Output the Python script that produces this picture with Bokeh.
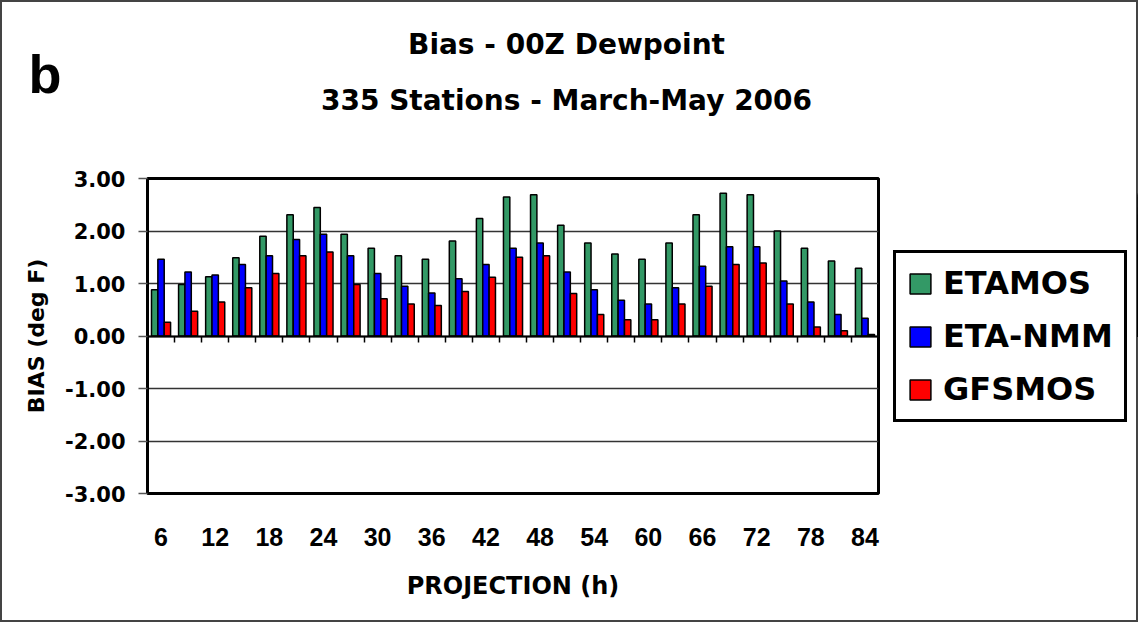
from bokeh.plotting import figure
from bokeh.layouts import column, row
from bokeh.models import (Range1d, LinearAxis, FixedTicker, Legend,
                          LegendItem, ColumnDataSource)
from bokeh.core.properties import value
from bokeh.transform import dodge
from bokeh.embed import file_html
from bokeh.resources import INLINE

# ---------------- data ----------------
projections = ["6", "9", "12", "15", "18", "21", "24", "27", "30", "33", "36", "39", "42",
               "45", "48", "51", "54", "57", "60", "63", "66", "69", "72", "75", "78", "81", "84"]
xtick_labels = ["6", "12", "18", "24", "30", "36", "42", "48", "54", "60", "66", "72", "78", "84"]

etamos = [0.88, 0.98, 1.13, 1.49, 1.90, 2.31, 2.45, 1.94, 1.67, 1.53, 1.46, 1.81, 2.24,
          2.65, 2.69, 2.11, 1.77, 1.56, 1.46, 1.77, 2.31, 2.72, 2.69, 2.00, 1.67, 1.43, 1.29]
eta_nmm = [1.46, 1.22, 1.16, 1.36, 1.53, 1.84, 1.94, 1.53, 1.19, 0.95, 0.82, 1.09, 1.36,
           1.67, 1.77, 1.22, 0.88, 0.68, 0.61, 0.92, 1.33, 1.70, 1.70, 1.05, 0.65, 0.41, 0.34]
gfsmos = [0.26, 0.47, 0.65, 0.92, 1.19, 1.53, 1.60, 0.98, 0.71, 0.61, 0.58, 0.85, 1.12,
          1.50, 1.53, 0.81, 0.41, 0.31, 0.31, 0.61, 0.95, 1.36, 1.39, 0.61, 0.17, 0.10, 0.03]

series_names = ["ETAMOS", "ETA-NMM", "GFSMOS"]
series_colors = ["#339966", "#0000FF", "#FF0000"]

yticks = [-3, -2, -1, 0, 1, 2, 3]
ytick_labels = ["-3.00", "-2.00", "-1.00", "0.00", "1.00", "2.00", "3.00"]

title_lines = ["Bias - 00Z Dewpoint", "335 Stations - March-May 2006"]
panel_letter = "b"
x_title = "PROJECTION (h)"
y_title = "BIAS (deg F)"

W, H = 1138, 622
HDR_H = 160
MAIN_W = 880
MAIN_H = H - HDR_H
TOP_B = 178 - HDR_H              # frame top inside lower row
BOT_B = MAIN_H - (493 - HDR_H)   # frame bottom margin inside lower row
EDGE = "#444444"

def bare(fig):
    fig.outline_line_color = None
    fig.grid.visible = False
    fig.background_fill_alpha = 0
    fig.border_fill_alpha = 0

# ---------------- header (titles) ----------------
hdr = figure(width=W, height=HDR_H, output_backend="svg", toolbar_location=None,
             x_axis_location=None, y_axis_location=None,
             min_border_left=0, min_border_right=0, min_border_top=0, min_border_bottom=0,
             x_range=Range1d(0, W), y_range=Range1d(HDR_H, 0))
bare(hdr)
hdr.styles = {"box-shadow": f"inset 2px 2px 0 {EDGE}, inset -2px 0 0 {EDGE}", "background": "white"}
hdr.text(x=[566, 566], y=[44, 100], text=title_lines,
         text_font=value("DejaVu Sans"), text_font_size="28px", text_font_style="bold",
         text_align="center", text_baseline="alphabetic", text_color="black")
hdr.text(x=[28], y=[73], text=[panel_letter],
         text_font=value("Liberation Sans"), text_font_size="54px", text_font_style="bold",
         text_align="left", text_baseline="alphabetic", text_color="black")

# ---------------- main chart ----------------
n = len(projections)
idx = list(range(n))
p = figure(width=MAIN_W, height=MAIN_H,
           x_range=Range1d(-0.5, n - 0.5),
           y_range=Range1d(-3, 3),
           output_backend="svg", toolbar_location=None,
           min_border_left=147, min_border_right=MAIN_W - 878,
           min_border_top=TOP_B, min_border_bottom=BOT_B)
p.background_fill_color = "white"
p.border_fill_alpha = 0
p.styles = {"box-shadow": f"inset 2px -2px 0 {EDGE}", "background": "white"}
p.outline_line_color = "black"
p.outline_line_width = 3

src = ColumnDataSource(dict(idx=idx, proj=projections, ETAMOS=etamos, ETANMM=eta_nmm, GFSMOS=gfsmos))
cols = ["ETAMOS", "ETANMM", "GFSMOS"]
bw = 0.235
for i, (col, color) in enumerate(zip(cols, series_colors)):
    p.vbar(x=dodge("idx", (i - 1) * bw), top=col, bottom=0, width=bw,
           source=src, fill_color=color, line_color="black", line_width=1.5)

# y axis
p.yaxis.ticker = FixedTicker(ticks=yticks)
p.yaxis.major_label_overrides = {t: s for t, s in zip(yticks, ytick_labels)}
p.yaxis.major_label_text_font = "DejaVu Sans"
p.yaxis.major_label_text_font_size = "21px"
p.yaxis.major_label_text_font_style = "bold"
p.yaxis.major_label_text_color = "black"
p.yaxis.major_tick_out = 9
p.yaxis.major_tick_in = 0
p.yaxis.major_tick_line_color = "#555555"
p.yaxis.major_tick_line_width = 1.5
p.yaxis.minor_tick_line_color = None
p.yaxis.major_label_standoff = 13
p.yaxis.axis_line_color = "black"
p.yaxis.axis_line_width = 3
p.yaxis.axis_label = y_title
p.yaxis.axis_label_text_font = "DejaVu Sans"
p.yaxis.axis_label_text_font_size = "22px"
p.yaxis.axis_label_text_font_style = "bold"
p.yaxis.axis_label_text_color = "black"
p.yaxis.axis_label_standoff = 13

p.ygrid.ticker = FixedTicker(ticks=yticks)
p.ygrid.grid_line_color = "#333333"
p.ygrid.grid_line_width = 1.5
p.xgrid.grid_line_color = None

# x axis (labels at bottom)
lab_ticks = [i for i, c in enumerate(projections) if c in xtick_labels]
p.xaxis.ticker = FixedTicker(ticks=lab_ticks)
p.xaxis.major_label_overrides = {i: projections[i] for i in lab_ticks}
p.xaxis.axis_line_color = None
p.xaxis.major_tick_line_color = None
p.xaxis.minor_tick_line_color = None
p.xaxis.major_label_standoff = 28
p.xaxis.major_label_text_font = "Liberation Sans"
p.xaxis.major_label_text_font_size = "25px"
p.xaxis.major_label_text_font_style = "bold"
p.xaxis.major_label_text_color = "black"
p.xaxis.axis_label = x_title
p.xaxis.axis_label_text_font = "DejaVu Sans"
p.xaxis.axis_label_text_font_size = "24px"
p.xaxis.axis_label_text_font_style = "bold"
p.xaxis.axis_label_text_color = "black"
p.xaxis.axis_label_standoff = 23

# zero line axis with ticks at category boundaries
zero_axis = LinearAxis(fixed_location=0,
                       ticker=FixedTicker(ticks=[i - 0.5 for i in range(n + 1)]),
                       major_tick_out=6, major_tick_in=0, minor_tick_line_color=None,
                       major_label_text_color=None, major_label_text_font_size="1px",
                       major_label_standoff=0,
                       axis_line_width=2, axis_line_color="black",
                       major_tick_line_color="black", major_tick_line_width=1.5)
p.add_layout(zero_axis, "below")

# ---------------- legend panel (same series, drawn off-range; only the legend shows) ----------------
LEG_W = W - MAIN_W
leg = figure(width=LEG_W, height=MAIN_H, output_backend="svg", toolbar_location=None,
             x_axis_location=None, y_axis_location=None,
             min_border_left=0, min_border_right=0,
             min_border_top=TOP_B, min_border_bottom=BOT_B,
             x_range=Range1d(-200, -199), y_range=Range1d(-3, 3))
bare(leg)
leg.styles = {"box-shadow": f"inset -2px -2px 0 {EDGE}", "background": "white"}
swatches = []
for i, (col, color) in enumerate(zip(cols, series_colors)):
    swatches.append(leg.vbar(x=dodge("idx", (i - 1) * bw), top=col, bottom=0, width=bw,
                             source=src, fill_color=color, line_color="black", line_width=1.5))
legend = Legend(items=[LegendItem(label=nm, renderers=[r]) for nm, r in zip(series_names, swatches)],
                location=(893 - MAIN_W, 493 - 422),
                label_text_font="DejaVu Sans", label_text_font_size="32px",
                label_text_font_style="bold", label_text_color="black",
                glyph_width=26, glyph_height=25, label_standoff=10,
                padding=11, spacing=15, margin=0,
                border_line_color="black", border_line_width=3, border_line_alpha=1,
                background_fill_color="white", background_fill_alpha=1)
leg.add_layout(legend)

layout = column(hdr, row(p, leg, spacing=0), spacing=0)

open("out.html", "w").write(file_html(layout, INLINE))
